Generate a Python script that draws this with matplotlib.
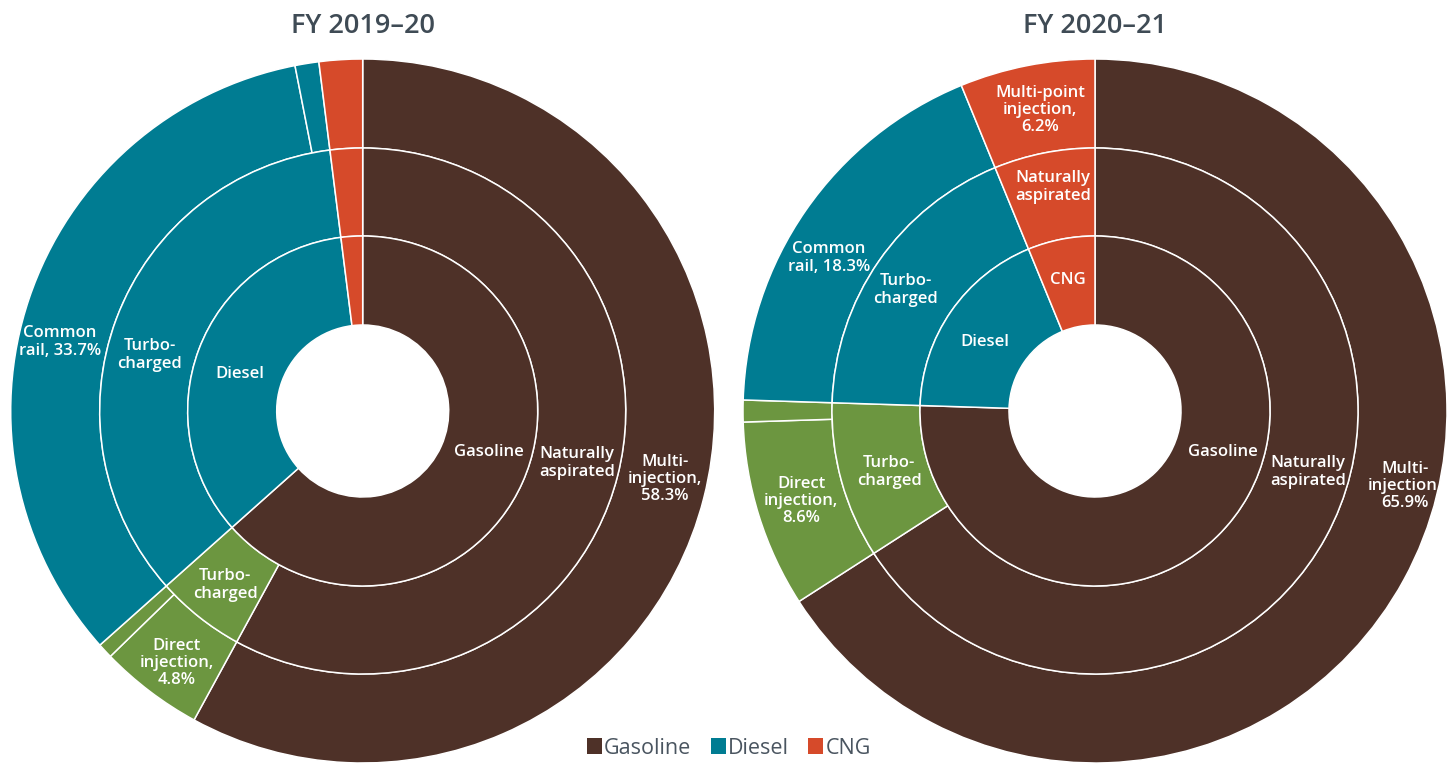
import matplotlib
matplotlib.use("Agg")
import matplotlib.pyplot as plt
from matplotlib.patches import Patch
import numpy as np

plt.rcParams['font.family'] = ['Open Sans', 'DejaVu Sans']

# ---------------- data ----------------
titles = ["FY 2019–20", "FY 2020–21"]
fuels = ["Gasoline", "Diesel", "CNG"]

# outer ring (injection type) values, in %, clockwise from 12 o'clock
outer_2019 = [58.3, 4.8, 0.7, 33.7, 1.1, 2.0]
outer_2020 = [65.9, 8.6, 1.0, 18.3, 6.2]
# middle ring (aspiration) groups: indices of outer segments
middle_groups_2019 = [[0], [1, 2], [3, 4], [5]]
middle_groups_2020 = [[0], [1, 2], [3], [4]]
# inner ring (fuel) groups: indices of middle segments
inner_groups_2019 = [[0, 1], [2], [3]]
inner_groups_2020 = [[0, 1], [2], [3]]

BROWN = "#4E3128"
TEAL = "#007C92"
RED = "#D64A2A"
GREEN = "#6C9640"

outer_colors_2019 = [BROWN, GREEN, GREEN, TEAL, TEAL, RED]
outer_colors_2020 = [BROWN, GREEN, GREEN, TEAL, RED]
middle_colors = [BROWN, GREEN, TEAL, RED]
inner_colors = [BROWN, TEAL, RED]

# label texts
labels_2019 = ["Gasoline", "Naturally\naspirated", "Multi-\ninjection,\n58.3%",
               "Diesel", "Turbo-\ncharged", "Common\nrail, 33.7%",
               "Turbo-\ncharged", "Direct\ninjection,\n4.8%"]
labels_2020 = ["Gasoline", "Naturally\naspirated", "Multi-\ninjection,\n65.9%",
               "Diesel", "Turbo-\ncharged", "Common\nrail, 18.3%",
               "CNG", "Naturally\naspirated", "Multi-point\ninjection,\n6.2%",
               "Turbo-\ncharged", "Direct\ninjection,\n8.6%"]

# ---------------- layout ----------------
W, H = 1456, 764
R = 352.0
centers = [(362.7, 411.0), (1095.0, 411.0)]
label_pos_2019 = [(489, 452), (577, 463), (665, 479),
                  (240, 374), (150, 355), (60, 342),
                  (225, 585), (177, 663)]
label_pos_2020 = [(1223, 452), (1308, 472), (1405, 486),
                  (985, 342), (906, 290), (829, 258),
                  (1068, 280), (1053, 187), (1040, 110),
                  (889, 472), (801, 501)]
ring_r = [1.0, 263 / R, 175 / R, 86 / R]

fig = plt.figure(figsize=(W / 100, H / 100), dpi=100)
fig.patch.set_facecolor("white")

datasets = [
    (outer_2019, middle_groups_2019, inner_groups_2019, outer_colors_2019, labels_2019, label_pos_2019),
    (outer_2020, middle_groups_2020, inner_groups_2020, outer_colors_2020, labels_2020, label_pos_2020),
]

wp = dict(edgecolor="white", linewidth=1.1)
for k, (outer, mg, ig, ocols, labs, lpos) in enumerate(datasets):
    cx, cy = centers[k]
    ax = fig.add_axes([(cx - R) / W, (H - cy - R) / H, 2 * R / W, 2 * R / H])
    outer = np.array(outer)
    middle = np.array([outer[g].sum() for g in mg])
    inner = np.array([middle[g].sum() for g in ig])
    ax.pie(outer, radius=ring_r[0], colors=ocols, startangle=90, counterclock=False,
           wedgeprops=dict(width=ring_r[0] - ring_r[1], **wp))
    ax.pie(middle, radius=ring_r[1], colors=middle_colors, startangle=90, counterclock=False,
           wedgeprops=dict(width=ring_r[1] - ring_r[2], **wp))
    ax.pie(inner, radius=ring_r[2], colors=inner_colors, startangle=90, counterclock=False,
           wedgeprops=dict(width=ring_r[2] - ring_r[3], **wp))
    ax.set_xlim(-1, 1)
    ax.set_ylim(-1, 1)
    ax.set_aspect("equal")
    ax.axis("off")
    fig.text(cx / W, 1 - 26 / H, titles[k], ha="center", va="center",
             fontsize=19.5, fontweight="semibold", color="#3F4B55")
    for t, (x, y) in zip(labs, lpos):
        fig.text(x / W, 1 - y / H, t, ha="center", va="center", fontsize=12,
                 fontweight="semibold", color="white", linespacing=1.12)

handles = [Patch(facecolor=c, edgecolor="none") for c in inner_colors]
fig.legend(handles, fuels, loc="center", bbox_to_anchor=(729 / W, 1 - 748 / H),
           ncol=3, frameon=False, fontsize=15.5, handlelength=0.7, handleheight=0.7,
           handletextpad=0.1, columnspacing=0.9, labelcolor="#4A5560",
           borderaxespad=0, borderpad=0)

fig.savefig("out.png", dpi=100, facecolor="white")
